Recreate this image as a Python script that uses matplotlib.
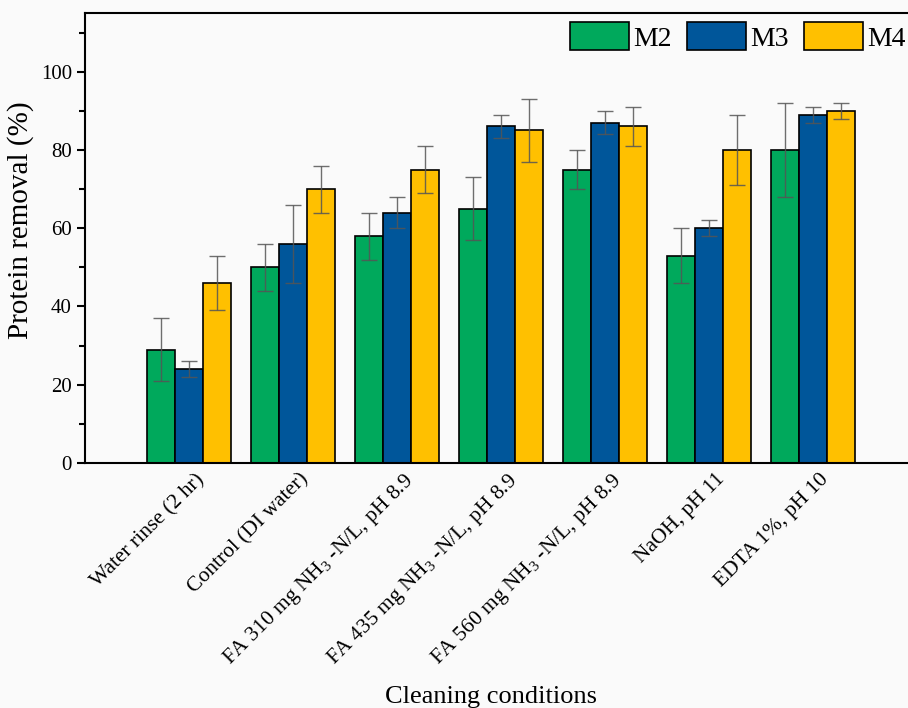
import matplotlib
matplotlib.use("Agg")
import matplotlib.pyplot as plt
import numpy as np
from matplotlib.ticker import MultipleLocator

plt.rcParams['font.family'] = ['Liberation Serif', 'DejaVu Serif']
plt.rcParams['mathtext.fontset'] = 'custom'
plt.rcParams['mathtext.rm'] = 'Liberation Serif'
plt.rcParams['mathtext.it'] = 'Liberation Serif:italic'

categories = ["Water rinse (2 hr)", "Control (DI water)",
              "FA 310 mg NH$_3$ -N/L, pH 8.9", "FA 435 mg NH$_3$ -N/L, pH 8.9",
              "FA 560 mg NH$_3$ -N/L, pH 8.9", "NaOH, pH 11", "EDTA 1%, pH 10"]
series = ["M2", "M3", "M4"]
m2 = [29, 50, 58, 65, 75, 53, 80]
m2_err = [8, 6, 6, 8, 5, 7, 12]
m3 = [24, 56, 64, 86, 87, 60, 89]
m3_err = [2, 10, 4, 3, 3, 2, 2]
m4 = [46, 70, 75, 85, 86, 80, 90]
m4_err = [7, 6, 6, 8, 5, 9, 2]
colors = ["#00A95C", "#00569A", "#FFC000"]

bg = "#fafafa"
fig = plt.figure(figsize=(9.08, 7.08), dpi=100, facecolor=bg)
ax = fig.add_axes([85/908, 1-463/708, (917-85)/908, (463-13)/708])
ax.set_facecolor(bg)

x = np.arange(len(categories))
w = 0.27
for i, (vals, errs, c, lab) in enumerate(zip([m2, m3, m4], [m2_err, m3_err, m4_err], colors, series)):
    ax.bar(x + (i-1)*w, vals, w, color=c, edgecolor='black', linewidth=1.2, label=lab, zorder=2)
    ax.errorbar(x + (i-1)*w, vals, yerr=errs, fmt='none', ecolor='#555555', elinewidth=1,
                capsize=6, capthick=1, alpha=0.85, zorder=3)

ax.set_xlim(-1, 7)
ax.set_ylim(0, 115)
ax.yaxis.set_major_locator(MultipleLocator(20))
ax.yaxis.set_minor_locator(MultipleLocator(10))
ax.tick_params(axis='y', which='major', direction='out', length=6, width=1.5, labelsize=15)
ax.tick_params(axis='y', which='minor', direction='out', length=4, width=1.5)
ax.set_xticks(x)
ax.set_xticklabels(categories, rotation=45, ha='right', va='top', rotation_mode='anchor', fontsize=15.5)
ax.tick_params(axis='x', length=0, pad=5)
for lbl in ax.get_xticklabels():
    lbl.set_transform(lbl.get_transform() + matplotlib.transforms.ScaledTranslation(6/100, 0, fig.dpi_scale_trans))
for s in ['left', 'bottom', 'top']:
    ax.spines[s].set_linewidth(1.5)
ax.spines['right'].set_visible(False)
ax.set_ylabel("Protein removal (%)", fontsize=21)
ax.yaxis.set_label_coords(-(85-34)/832, (463-220)/450)
fig.text(491/908, 1-697/708, "Cleaning conditions", ha='center', va='center', fontsize=19)

leg = ax.legend(ncol=3, loc='upper right', bbox_to_anchor=(931/908, 1-(-3)/708),
                bbox_transform=fig.transFigure, frameon=False, fontsize=20,
                handlelength=2.13, handleheight=1.2, columnspacing=0.55, handletextpad=0.15)

fig.savefig("out.png", dpi=100, facecolor=bg)
